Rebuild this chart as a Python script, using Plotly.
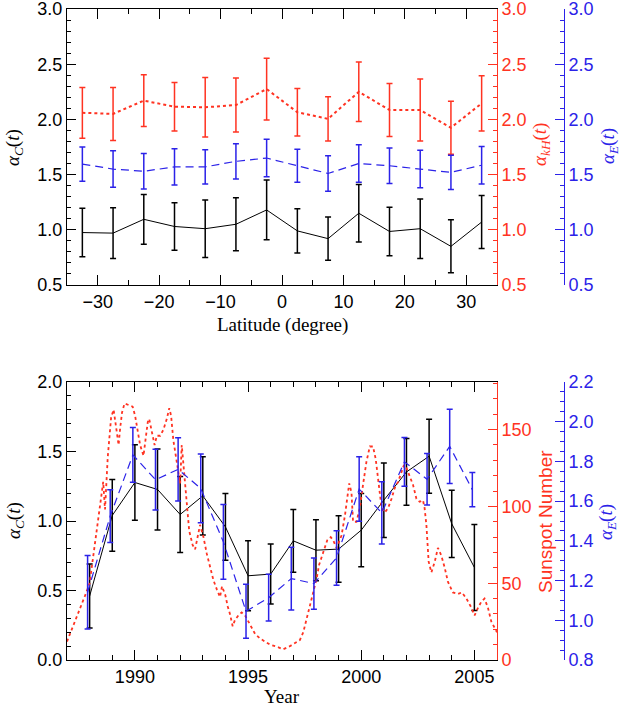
import plotly.graph_objects as go

# ---- top panel: alpha versus latitude ----
lat = [-32.5, -27.5, -22.5, -17.5, -12.5, -7.5, -2.5, 2.5, 7.5, 12.5, 17.5, 22.5, 27.5, 32.5]
alpha_c_lat = [0.975, 0.97, 1.095, 1.03, 1.01, 1.05, 1.18, 0.99, 0.92, 1.15, 0.985, 1.01, 0.85, 1.07]
alpha_c_lat_err = [0.22, 0.23, 0.225, 0.215, 0.26, 0.24, 0.27, 0.20, 0.195, 0.26, 0.22, 0.27, 0.24, 0.24]
alpha_kh_lat = [2.06, 2.05, 2.17, 2.115, 2.11, 2.13, 2.275, 2.065, 2.005, 2.25, 2.085, 2.085, 1.925, 2.145]
alpha_kh_lat_err = [0.23, 0.24, 0.235, 0.22, 0.27, 0.245, 0.28, 0.215, 0.20, 0.27, 0.24, 0.28, 0.24, 0.25]
alpha_e_lat = [1.595, 1.55, 1.53, 1.57, 1.57, 1.62, 1.65, 1.58, 1.51, 1.60, 1.58, 1.55, 1.52, 1.585]
alpha_e_lat_err = [0.155, 0.165, 0.16, 0.165, 0.155, 0.16, 0.17, 0.15, 0.16, 0.17, 0.16, 0.17, 0.155, 0.17]

# ---- bottom panel: alpha versus year ----
years = [1988, 1989, 1990, 1991, 1992, 1993, 1994, 1995, 1996,
         1997, 1998, 1999, 2000, 2001, 2002, 2003, 2004, 2005]
alpha_c_year = [0.46, 1.04, 1.277, 1.227, 1.047, 1.181, 0.958, 0.606, 0.618,
                0.857, 0.79, 0.798, 0.934, 1.15, 1.353, 1.466, 0.98, 0.666]
alpha_c_year_err = [0.23, 0.258, 0.272, 0.291, 0.273, 0.282, 0.24, 0.252, 0.216,
                    0.225, 0.219, 0.239, 0.264, 0.268, 0.24, 0.266, 0.242, 0.309]
alpha_e_year = [1.141, 1.525, 1.833, 1.708, 1.76, 1.664, 1.395, 1.045, 1.114,
                1.21, 1.185, 1.314, 1.661, 1.541, 1.798, 1.71, 1.876, 1.658]
alpha_e_year_err = [0.185, 0.133, 0.138, 0.153, 0.159, 0.173, 0.188, 0.136, 0.118,
                    0.158, 0.129, 0.137, 0.162, 0.157, 0.123, 0.13, 0.187, 0.086]

ssn_year = [1987.0, 1987.22, 1987.4, 1987.6, 1987.8, 1988.0, 1988.17, 1988.35, 1988.5,
            1988.6, 1988.68, 1988.8, 1988.95, 1989.06, 1989.13, 1989.2, 1989.28, 1989.35,
            1989.43, 1989.54, 1989.72, 1989.9, 1990.01, 1990.09, 1990.23, 1990.38, 1990.45,
            1990.57, 1990.63, 1990.75, 1990.87, 1990.97, 1991.12, 1991.26, 1991.41, 1991.52,
            1991.6, 1991.7, 1991.85, 1992.0, 1992.07, 1992.18, 1992.29, 1992.4, 1992.55,
            1992.66, 1992.88, 1993.03, 1993.18, 1993.32, 1993.47, 1993.62, 1993.76, 1993.85,
            1994.0, 1994.1, 1994.2, 1994.32, 1994.42, 1994.57, 1994.72, 1994.87, 1995.09,
            1995.31, 1995.53, 1995.75, 1995.97, 1996.26, 1996.55, 1996.85, 1997.07, 1997.29,
            1997.44, 1997.59, 1997.73, 1997.88, 1998.03, 1998.14, 1998.32, 1998.5, 1998.65,
            1998.76, 1998.91, 1999.13, 1999.28, 1999.38, 1999.47, 1999.57, 1999.64, 1999.79,
            1999.94, 2000.08, 2000.23, 2000.38, 2000.52, 2000.64, 2000.74, 2000.82, 2000.9,
            2001.04, 2001.19, 2001.34, 2001.48, 2001.63, 2001.78, 2001.89, 2002.0, 2002.14,
            2002.29, 2002.44, 2002.58, 2002.73, 2002.8, 2002.88, 2002.93, 2002.98, 2003.1,
            2003.25, 2003.39, 2003.54, 2003.69, 2003.83, 2004.05, 2004.27, 2004.45, 2004.65,
            2004.87, 2005.01, 2005.16, 2005.31, 2005.45, 2005.6, 2005.75, 2005.9, 2006.0]
ssn = [12, 20, 27, 35, 42, 50, 70, 90, 105,
       116, 98, 132, 158, 163, 155, 146, 140, 151,
       161, 167, 166, 165, 159, 151, 140, 133, 142,
       155, 157, 148, 140, 146, 146, 150, 157, 164,
       159, 143, 128, 115, 140, 120, 100, 84, 75,
       72, 88, 80, 69, 61, 52, 46, 41, 48,
       42, 35, 30, 22, 26, 29, 31, 29, 23,
       17, 14, 12, 10, 8.7, 7, 9, 11, 13,
       18, 27, 36, 45, 53, 62, 70, 78, 80,
       78, 73, 81, 94, 107, 115, 109, 90, 90,
       99, 114, 129, 139, 139, 131, 118, 107, 99,
       96, 99, 105, 112, 116, 122, 127, 125, 120,
       114, 105, 103, 104, 99, 88, 77, 64, 57,
       64, 73, 68, 60, 51, 44, 43, 44, 40,
       34, 29, 34, 38, 40, 34, 25, 21, 18]

RED = "#ff3322"
BLUE = "#2b22e8"
blue_shift = -0.09  # blue bars sit slightly left of the black ones

W, H = 621, 708
ML, MR, MT, MB = 67, 57, 9, 48
PW, PH = W - ML - MR, H - MT - MB


def px(x):  # pixel column -> paper x
    return (x - ML) / PW


def py(y):  # pixel row -> paper y
    return (H - MB - y) / PH


tick_font = dict(family="Liberation Sans", size=18)

fig = go.Figure()

# top panel
fig.add_trace(go.Scatter(x=lat, y=alpha_c_lat, mode="lines", xaxis="x", yaxis="y",
                         line=dict(color="black", width=1),
                         error_y=dict(type="data", array=alpha_c_lat_err, color="black",
                                      thickness=1.5, width=3)))
fig.add_trace(go.Scatter(x=lat, y=alpha_kh_lat, mode="lines", xaxis="x", yaxis="y2",
                         line=dict(color=RED, width=2, dash="dot"),
                         error_y=dict(type="data", array=alpha_kh_lat_err, color=RED,
                                      thickness=1.5, width=3)))
fig.add_trace(go.Scatter(x=lat, y=alpha_e_lat, mode="lines", xaxis="x", yaxis="y3",
                         line=dict(color=BLUE, width=1.2, dash="8px,5px"),
                         error_y=dict(type="data", array=alpha_e_lat_err, color=BLUE,
                                      thickness=1.5, width=3)))

# bottom panel
fig.add_trace(go.Scatter(x=ssn_year, y=ssn, mode="lines", xaxis="x2", yaxis="y5",
                         line=dict(color=RED, width=1.8, dash="dot")))
fig.add_trace(go.Scatter(x=years, y=alpha_c_year, mode="lines", xaxis="x2", yaxis="y4",
                         line=dict(color="black", width=1),
                         error_y=dict(type="data", array=alpha_c_year_err, color="black",
                                      thickness=1.5, width=3)))
fig.add_trace(go.Scatter(x=[y + blue_shift for y in years], y=alpha_e_year, mode="lines",
                         xaxis="x2", yaxis="y6",
                         line=dict(color=BLUE, width=1.2, dash="8px,5px"),
                         error_y=dict(type="data", array=alpha_e_year_err, color=BLUE,
                                      thickness=1.5, width=3)))

xdom = [0, px(497)]
top_dom = [py(285), 1]
bot_dom = [0, py(382)]


def yax(color, rng, dtick, minor, fmt, **kw):
    d = dict(range=rng, dtick=dtick, tick0=rng[0], tickformat=fmt, showgrid=False,
             zeroline=False, showline=True, linecolor=color, linewidth=1,
             ticks="inside", ticklen=9, tickcolor=color, tickwidth=1,
             tickfont=dict(color=color, **tick_font), automargin=False,
             ticklabeloverflow="allow",
             minor=dict(dtick=minor, ticks="inside", ticklen=4, tickcolor=color, showgrid=False))
    d.update(kw)
    return d


def xax(rng, dtick, tick0, minor, **kw):
    d = dict(range=rng, dtick=dtick, tick0=tick0, domain=xdom, showgrid=False,
             zeroline=False, showline=True, linecolor="black", linewidth=1, mirror="ticks",
             ticks="inside", ticklen=10, tickcolor="black", tickfont=dict(color="black", **tick_font),
             automargin=False, ticklabeloverflow="allow",
             minor=dict(dtick=minor, ticks="inside", ticklen=5, tickcolor="black", showgrid=False))
    d.update(kw)
    return d


fig.update_layout(
    width=W, height=H,
    margin=dict(l=ML, r=MR, t=MT, b=MB),
    paper_bgcolor="white", plot_bgcolor="white",
    showlegend=False,
    xaxis=xax([-35, 35], 10, 0, 5, anchor="y"),
    yaxis=yax("black", [0.5, 3.0], 0.5, 0.1, ".1f", domain=top_dom, anchor="x"),
    yaxis2=yax(RED, [0.5, 3.0], 0.5, 0.1, ".1f", overlaying="y", side="right", anchor="x"),
    yaxis3=yax(BLUE, [0.5, 3.0], 0.5, 0.1, ".1f", overlaying="y", side="right",
               anchor="free", position=1.0),
    xaxis2=xax([1987, 2006], 5, 1990, 1, anchor="y4"),
    yaxis4=yax("black", [0, 2.0], 0.5, 0.1, ".1f", domain=bot_dom, anchor="x2"),
    yaxis5=yax(RED, [0, 181], 50, 10, "d", overlaying="y4", side="right", anchor="x2"),
    yaxis6=yax(BLUE, [0.8, 2.2], 0.2, 0.05, ".1f", overlaying="y4", side="right",
               anchor="free", position=1.0),
)

labels = [
    ("Latitude (degree)", 282, 325, 0, "black", "Liberation Serif"),
    ("Year", 282, 696, 0, "black", "Liberation Serif"),
    ("<i>α</i><sub><i>C</i></sub>(<i>t</i>)", 14, 148, -90, "black", "Liberation Serif"),
    ("<i>α</i><sub><i>kH</i></sub>(<i>t</i>)", 541, 145, -90, RED, "Liberation Serif"),
    ("<i>α</i><sub><i>E</i></sub>(<i>t</i>)", 609, 146, -90, BLUE, "Liberation Serif"),
    ("<i>α</i><sub><i>C</i></sub>(<i>t</i>)", 15, 521, -90, "black", "Liberation Serif"),
    ("Sunspot Number", 545, 522, -90, RED, "Liberation Sans"),
    ("<i>α</i><sub><i>E</i></sub>(<i>t</i>)", 607, 522, -90, BLUE, "Liberation Serif"),
]
for text, lx, ly, ang, col, fam in labels:
    fig.add_annotation(text=text, x=px(lx), y=py(ly), xref="paper", yref="paper",
                       showarrow=False, textangle=ang, xanchor="center", yanchor="middle",
                       font=dict(family=fam, size=19, color=col))

# the page body has a default 8px margin; drop it so the figure fills the window
fig.write_html("out.html", config={"displayModeBar": False},
               post_script="document.body.style.margin='0px';")
